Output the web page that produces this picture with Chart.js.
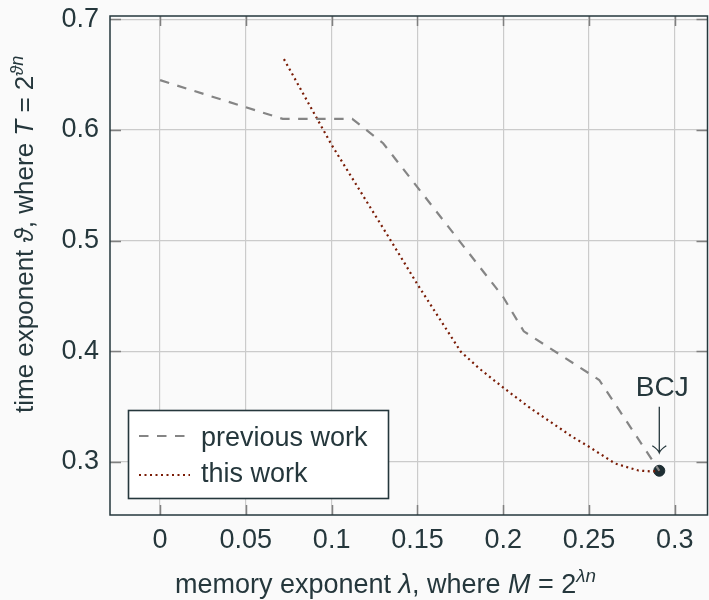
<!DOCTYPE html>
<html lang="en">
<head>
<meta charset="UTF-8">
<title>Time-memory tradeoff</title>
<script src="https://cdn.jsdelivr.net/npm/chart.js"></script>
<style>
  html, body { margin: 0; padding: 0; background: #fafafa; overflow: hidden; }
  /* a little wider than the window: the right edge of the frame is cut off, as in the figure */
  #wrap { width: 714px; height: 600px; }
</style>
</head>
<body>
<div id="wrap"><canvas id="tradeoff"></canvas></div>
<script>
// previous work (dashed grey curve)
const prevLambda = [0, 0.0715, 0.112, 0.13, 0.2, 0.212, 0.256, 0.291];
const prevTheta  = [0.645, 0.61, 0.61, 0.588, 0.449, 0.418, 0.374, 0.292];

// this work (dotted red curve)
const thisLambda = [0.0722, 0.1, 0.1345, 0.15, 0.1752, 0.1858, 0.2004, 0.2159, 0.2401, 0.2498, 0.2653, 0.2789, 0.2866, 0.291];
const thisTheta  = [0.664, 0.5865, 0.5, 0.4605, 0.3998, 0.3847, 0.3667, 0.3485, 0.3229, 0.3139, 0.2985, 0.2922, 0.2913, 0.292];

// BCJ marker
const bcjPoint = [0.291, 0.292];

// ticks
const xTicks = [0, 0.05, 0.1, 0.15, 0.2, 0.25, 0.3];
const xTickLabels = ['0', '0.05', '0.1', '0.15', '0.2', '0.25', '0.3'];
const yTicks = [0.3, 0.4, 0.5, 0.6, 0.7];
const yTickLabels = ['0.3', '0.4', '0.5', '0.6', '0.7'];

const TEXT = '#25373c';
const FONT = "'Liberation Sans', 'DejaVu Sans', sans-serif";
const PREV_COLOR = '#858585';
const THIS_COLOR = '#7a1c06';
const PREV_DASH = [9.5, 8.5];
const THIS_DASH = [2, 3.5];

function toPoints(xs, ys) {
    return xs.map((x, i) => ({ x: x, y: ys[i] }));
}

// draw a run of text pieces (normal / italic / superscript), returns end x
function drawRich(ctx, parts, x, y, size) {
    parts.forEach(p => {
        const s = p.sup ? size * 0.7 : size;
        ctx.font = (p.italic ? 'italic ' : '') + s + 'px ' + FONT;
        ctx.fillText(p.t, x, p.sup ? y - size * 0.4 : y);
        x += ctx.measureText(p.t).width;
    });
    return x;
}

// drop the label overflow padding so the plot box sits where we want it
function noPad(s) {
    s.paddingTop = 0; s.paddingBottom = 0;
    s.paddingLeft = 0; s.paddingRight = 0;
}

const decor = {
    id: 'decor',
    beforeDraw(chart) {
        const ctx = chart.ctx;
        ctx.save();
        ctx.fillStyle = '#fafafa';
        ctx.fillRect(0, 0, chart.width, chart.height);
        ctx.restore();
    },
    afterDatasetsDraw(chart) {
        const ctx = chart.ctx;
        const a = chart.chartArea;
        const xs = chart.scales.x, ys = chart.scales.y;
        ctx.save();
        // inner tick marks
        ctx.strokeStyle = '#808080';
        ctx.lineWidth = 1.5;
        ctx.beginPath();
        xTicks.forEach(v => {
            const px = Math.round(xs.getPixelForValue(v)) + 0.5;
            ctx.moveTo(px, a.bottom); ctx.lineTo(px, a.bottom - 10);
            ctx.moveTo(px, a.top); ctx.lineTo(px, a.top + 10);
        });
        yTicks.forEach(v => {
            const py = Math.round(ys.getPixelForValue(v)) + 0.5;
            ctx.moveTo(a.left, py); ctx.lineTo(a.left + 11, py);
            ctx.moveTo(a.right, py); ctx.lineTo(a.right - 11, py);
        });
        ctx.stroke();

        // frame
        ctx.strokeStyle = TEXT;
        ctx.lineWidth = 1.5;
        ctx.strokeRect(a.left, a.top, a.right - a.left, a.bottom - a.top);

        // BCJ label with arrow
        const bx = xs.getPixelForValue(bcjPoint[0]);
        const by = ys.getPixelForValue(bcjPoint[1]);
        ctx.fillStyle = TEXT;
        ctx.font = '28px ' + FONT;
        ctx.textAlign = 'center';
        ctx.textBaseline = 'alphabetic';
        ctx.fillText('BCJ', bx + 3, by - 75);
        ctx.strokeStyle = TEXT;
        ctx.lineWidth = 1.3;
        ctx.beginPath();
        ctx.moveTo(bx, by - 64);
        ctx.lineTo(bx, by - 18);
        ctx.moveTo(bx - 7, by - 25);
        ctx.quadraticCurveTo(bx - 1, by - 21, bx, by - 18);
        ctx.quadraticCurveTo(bx + 1, by - 21, bx + 7, by - 25);
        ctx.stroke();
        ctx.restore();
    },
    afterDraw(chart) {
        const ctx = chart.ctx;
        ctx.save();
        // legend box
        const lx = 128.5, ly = 410.5, lw = 260, lh = 88;
        ctx.fillStyle = '#ffffff';
        ctx.fillRect(lx, ly, lw, lh);
        ctx.strokeStyle = TEXT;
        ctx.lineWidth = 1.6;
        ctx.strokeRect(lx, ly, lw, lh);

        ctx.lineWidth = 2.2;
        ctx.strokeStyle = PREV_COLOR;
        ctx.setLineDash(PREV_DASH);
        ctx.beginPath(); ctx.moveTo(139, 436); ctx.lineTo(188, 436); ctx.stroke();
        ctx.strokeStyle = THIS_COLOR;
        ctx.setLineDash(THIS_DASH);
        ctx.beginPath(); ctx.moveTo(139, 475); ctx.lineTo(190, 475); ctx.stroke();
        ctx.setLineDash([]);

        ctx.fillStyle = TEXT;
        ctx.textAlign = 'left';
        ctx.textBaseline = 'alphabetic';
        ctx.font = '27px ' + FONT;
        ctx.fillText(chart.data.datasets[0].label, 201, 446);
        ctx.fillText(chart.data.datasets[1].label, 201, 482);

        // x axis title
        drawRich(ctx, [
            { t: 'memory exponent ' },
            { t: 'λ', italic: true },
            { t: ', where ' },
            { t: 'M', italic: true },
            { t: ' = 2' },
            { t: 'λn', italic: true, sup: true }
        ], 175, 593, 27);

        // y axis title
        ctx.translate(33, 413);
        ctx.rotate(-Math.PI / 2);
        drawRich(ctx, [
            { t: 'time exponent ' },
            { t: 'ϑ', italic: true },
            { t: ', where ' },
            { t: 'T', italic: true },
            { t: ' = 2' },
            { t: 'ϑn', italic: true, sup: true }
        ], 0, 0, 26);
        ctx.restore();
    }
};

new Chart(document.getElementById('tradeoff'), {
    type: 'line',
    data: {
        datasets: [
            {
                label: 'previous work',
                data: toPoints(prevLambda, prevTheta),
                borderColor: PREV_COLOR,
                borderWidth: 2.2,
                borderDash: PREV_DASH,
                pointRadius: 0,
                tension: 0,
                fill: false
            },
            {
                label: 'this work',
                data: toPoints(thisLambda, thisTheta),
                borderColor: THIS_COLOR,
                borderWidth: 2.2,
                borderDash: THIS_DASH,
                pointRadius: 0,
                tension: 0,
                fill: false
            },
            {
                label: 'BCJ',
                data: [{ x: bcjPoint[0], y: bcjPoint[1] }],
                showLine: false,
                pointRadius: 5.5,
                pointBackgroundColor: '#1e2e33',
                pointBorderColor: '#1e2e33'
            }
        ]
    },
    options: {
        responsive: true,
        maintainAspectRatio: false,
        animation: false,
        layout: { padding: { top: 16, left: 0, right: 0, bottom: 0 } },
        plugins: {
            legend: { display: false },
            tooltip: { enabled: false }
        },
        scales: {
            x: {
                type: 'linear',
                min: -0.0292,
                max: 0.3191,
                afterBuildTicks: s => { s.ticks = xTicks.map(v => ({ value: v })); },
                afterFit: s => { s.height = 85; noPad(s); },
                grid: { color: '#cbcbcb', lineWidth: 1.2, drawTicks: false },
                border: { display: false },
                ticks: {
                    color: TEXT,
                    font: { family: FONT, size: 27 },
                    padding: 9,
                    maxRotation: 0,
                    callback: (v, i) => xTickLabels[i]
                }
            },
            y: {
                type: 'linear',
                min: 0.252,
                max: 0.703,
                afterBuildTicks: s => { s.ticks = yTicks.map(v => ({ value: v })); },
                afterFit: s => { s.width = 110; noPad(s); },
                grid: { color: '#cbcbcb', lineWidth: 1.2, drawTicks: false },
                border: { display: false },
                ticks: {
                    color: TEXT,
                    font: { family: FONT, size: 27 },
                    padding: 11,
                    callback: (v, i) => yTickLabels[i]
                }
            }
        }
    },
    plugins: [decor]
});
</script>
</body>
</html>
